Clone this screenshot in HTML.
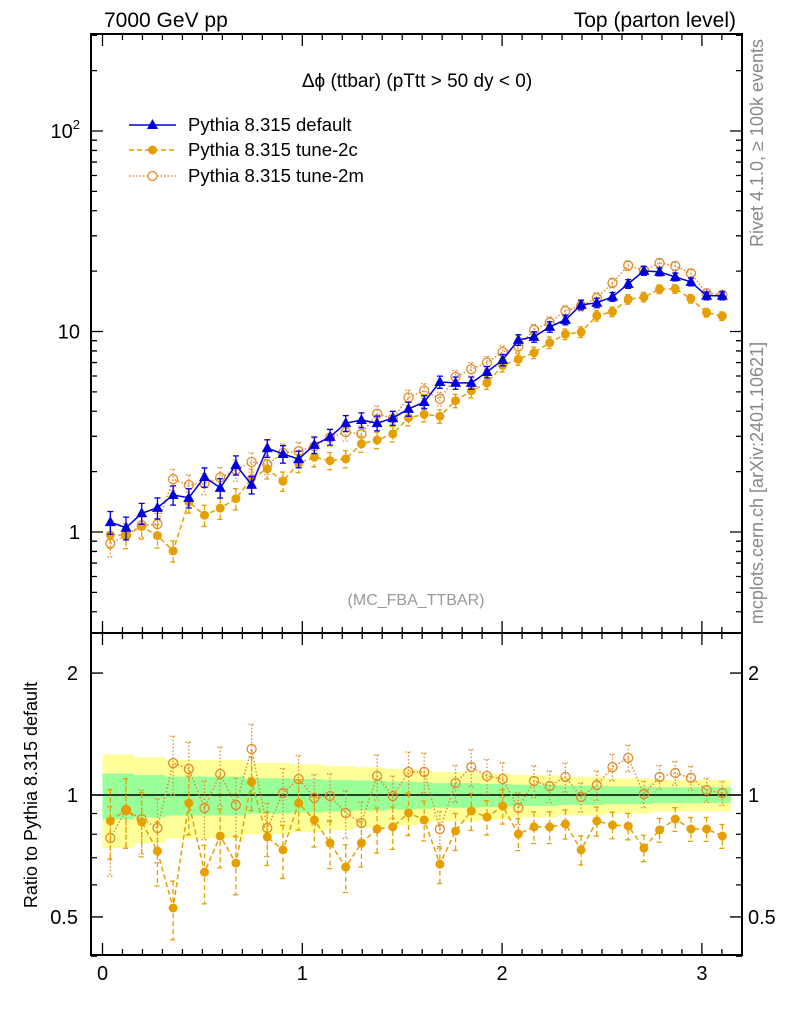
<!DOCTYPE html>
<html><head><meta charset="utf-8">
<style>
body{margin:0;background:#fff;}
svg{display:block;font-family:"Liberation Sans",sans-serif;}
</style></head>
<body>
<svg id="chart" width="786" height="1024" xmlns="http://www.w3.org/2000/svg">
<text x="104" y="27" font-size="21">7000 GeV pp</text>
<text x="736" y="27" font-size="21" text-anchor="end">Top (parton level)</text>
<text x="417" y="87" font-size="19" text-anchor="middle">Δϕ (ttbar) (pTtt &gt; 50 dy &lt; 0)</text>
<text x="416" y="605" font-size="16" fill="#999" text-anchor="middle">(MC_FBA_TTBAR)</text>
<text transform="translate(763,143) rotate(-90)" font-size="18" fill="#888" text-anchor="middle">Rivet 4.1.0, ≥ 100k events</text>
<text transform="translate(763,483) rotate(-90)" font-size="18" fill="#888" text-anchor="middle">mcplots.cern.ch [arXiv:2401.10621]</text>
<text transform="translate(37,795) rotate(-90)" font-size="18" text-anchor="middle">Ratio to Pythia 8.315 default</text>
<g id="bands"></g><g id="marks"></g><g id="axes"></g>
<g>
<g>
<line x1="129" y1="125" x2="176" y2="125" stroke="#0000dd" stroke-width="1.5"/>
<path d="M152.5,119 L158,129 L147,129Z" fill="#0000dd"/>
<text x="188" y="131" font-size="18.5">Pythia 8.315 default</text></g>
<g>
<line x1="129" y1="150" x2="176" y2="150" stroke="#e69f00" stroke-width="1.5" stroke-dasharray="5,3"/>
<circle cx="152.5" cy="150" r="4.5" fill="#e69f00"/>
<text x="188" y="156" font-size="18.5">Pythia 8.315 tune-2c</text></g>
<g>
<line x1="129" y1="176" x2="176" y2="176" stroke="#e08a2c" stroke-width="1.5" stroke-dasharray="1.5,2"/>
<circle cx="152.5" cy="176" r="4.5" fill="#fff" stroke="#e08a2c" stroke-width="1.3"/>
<text x="188" y="182" font-size="18.5">Pythia 8.315 tune-2m</text></g>
</g>
</svg>
<script>
const defaultVals=[1.12,1.05,1.24,1.32,1.53,1.48,1.88,1.66,2.16,1.72,2.62,2.45,2.31,2.72,2.98,3.49,3.62,3.49,3.70,4.11,4.45,5.60,5.54,5.54,6.28,7.21,9.08,9.40,10.55,11.43,13.58,13.90,14.90,17.28,20.06,19.83,18.72,17.68,15.07,15.07];
const ratio2c=[0.863,0.918,0.858,0.727,0.526,0.955,0.645,0.792,0.679,1.077,0.788,0.732,0.955,0.868,0.761,0.664,0.761,0.824,0.834,0.903,0.868,0.675,0.815,0.913,0.882,0.939,0.801,0.834,0.834,0.848,0.732,0.863,0.843,0.838,0.740,0.820,0.872,0.824,0.824,0.792];
const ratio2m=[0.783,0.918,0.872,0.829,1.199,1.159,0.929,1.127,0.945,1.299,0.829,1.011,1.095,0.983,0.994,0.903,0.853,1.114,0.994,1.140,1.140,0.824,1.071,1.172,1.114,1.095,0.929,1.083,1.052,1.108,0.989,1.058,1.172,1.234,1.006,1.108,1.133,1.102,1.029,1.011];
const relErr=[0.13,0.13,0.12,0.12,0.11,0.11,0.11,0.11,0.11,0.10,0.10,0.10,0.095,0.095,0.09,0.09,0.085,0.085,0.08,0.08,0.075,0.07,0.07,0.07,0.065,0.065,0.06,0.06,0.06,0.055,0.055,0.055,0.05,0.05,0.05,0.045,0.045,0.045,0.045,0.045];
const xTicks=[0,1,2,3];
const mainTickLabels=["1","10","10²"];
const ratioTickLabels=["0.5","1","2"];
const ratioTickVals=[0.5,1,2];

const NS="http://www.w3.org/2000/svg";
const L=91,R=742,T=34,MB=633,B=955;
const X=v=>102.5+v*199.8;
const Y=v=>532-200.5*Math.log10(v);
const RY=v=>795-405*Math.log10(v);
const bw=Math.PI/40;
function el(tag,attrs,parent){const e=document.createElementNS(NS,tag);for(const k in attrs)e.setAttribute(k,attrs[k]);parent.appendChild(e);return e;}
const bands=document.getElementById('bands'),marks=document.getElementById('marks'),axes=document.getElementById('axes');

for(let i=0;i<40;i++){
  const x1=X(i*bw),x2=X((i+1)*bw),e=relErr[i];
  const y=el('rect',{x:x1,y:RY(1+2*e),width:x2-x1+0.5,height:RY(1-2*e)-RY(1+2*e),fill:'#ffff99'},bands);
  
  
  const g=el('rect',{x:x1,y:RY(1+e),width:x2-x1+0.5,height:RY(1-e)-RY(1+e),fill:'#99ff99'},bands);
  
  
}
const one=el('line',{x1:L,x2:R,y1:RY(1),y2:RY(1),stroke:'#000','stroke-width':1.5},bands);



function series(vals,errs,yf,color,dash,marker,name){
  const pts=vals.map((v,i)=>[X((i+0.5)*bw),yf(v)]);
  const pl=el('polyline',{points:pts.map(p=>p.join(',')).join(' '),fill:'none',stroke:color,'stroke-width':1.5,'stroke-dasharray':dash},marks);
  
  
  vals.forEach((v,i)=>{
    const x=pts[i][0],y=pts[i][1];
    const lo=yf(Math.max(v-errs[i],1e-3)),hi=yf(v+errs[i]);
    const eb=el('path',{d:`M${x},${hi}V${lo}M${x-3},${hi}h6M${x-3},${lo}h6`,stroke:color,'stroke-width':1.3,fill:'none','stroke-dasharray':dash},marks);
    
    
    let m;
    if(marker==='tri') m=el('path',{d:`M${x},${y-6}L${x+5.5},${y+4}L${x-5.5},${y+4}Z`,fill:color},marks);
    else if(marker==='dot') m=el('circle',{cx:x,cy:y,r:4.5,fill:color},marks);
    else m=el('circle',{cx:x,cy:y,r:4.5,fill:'none',stroke:color,'stroke-width':1.3},marks);
    
    
  });
}
const v2c=defaultVals.map((v,i)=>v*ratio2c[i]);
const v2m=defaultVals.map((v,i)=>v*ratio2m[i]);
series(v2m,v2m.map((v,i)=>v*relErr[i]*1.1),Y,'#e08a2c','1.5,2','open','tune-2m');
series(v2c,v2c.map((v,i)=>v*relErr[i]*1.1),Y,'#e69f00','5,3','dot','tune-2c');
series(defaultVals,defaultVals.map((v,i)=>v*relErr[i]),Y,'#0000dd','','tri','default');
series(ratio2m,ratio2m.map((v,i)=>v*relErr[i]*1.5),RY,'#e08a2c','1.5,2','open','ratio-tune-2m');
series(ratio2c,ratio2c.map((v,i)=>v*relErr[i]*1.5),RY,'#e69f00','5,3','dot','ratio-tune-2c');

const f1=el('rect',{x:L,y:T,width:R-L,height:MB-T,fill:'none',stroke:'#000','stroke-width':2},axes);


const f2=el('rect',{x:L,y:MB,width:R-L,height:B-MB,fill:'none',stroke:'#000','stroke-width':2},axes);



for(let k=0;k<=31;k++){
  const v=k/10,x=X(v),len=(k%10===0)?12:6;
  el('path',{d:`M${x},${T}v${len}M${x},${MB}v${-len}M${x},${MB}v${len}M${x},${B}v${-len}`,stroke:'#000','stroke-width':1.3},axes);
}
xTicks.forEach(v=>{
  const t=el('text',{x:X(v),y:980,'font-size':20,'text-anchor':'middle'},axes);
  t.textContent=String(v);
  
  
});
for(let d=-1;d<=2;d++)for(let m=1;m<=9;m++){
  const v=m*Math.pow(10,d),y=Y(v);if(y<T||y>MB)continue;
  const len=m===1?12:6;
  el('path',{d:`M${L},${y}h${len}M${R},${y}h${-len}`,stroke:'#000','stroke-width':1.3},axes);
}
mainTickLabels.forEach((s,i)=>{
  const y=Y(Math.pow(10,i));
  const t=el('text',{x:80,y:y+7,'font-size':20,'text-anchor':'end'},axes);
  if(s==='10²'){t.textContent='10';const sp=el('tspan',{dy:-9,'font-size':13},t);sp.textContent='2';}
  else t.textContent=s;
  
  
});
[0.4,0.5,0.6,0.7,0.8,0.9,1,2].forEach(v=>{
  const y=RY(v);const len=(v===0.5||v===1||v===2)?12:6;
  el('path',{d:`M${L},${y}h${len}M${R},${y}h${-len}`,stroke:'#000','stroke-width':1.3},axes);
});
ratioTickVals.forEach((v,i)=>{
  const y=RY(v);
  const a=el('text',{x:78,y:y+7,'font-size':20,'text-anchor':'end'},axes);
  a.textContent=ratioTickLabels[i];
  
  
  const b=el('text',{x:748,y:y+7,'font-size':20},axes);
  b.textContent=ratioTickLabels[i];
  
  
});
</script>
</body></html>
